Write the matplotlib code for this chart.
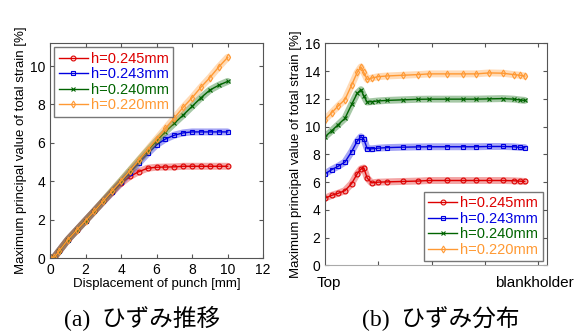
import matplotlib
matplotlib.use("Agg")
import matplotlib.pyplot as plt

plt.rcParams['font.family'] = ['Liberation Sans', 'DejaVu Sans']

labels = ['h=0.245mm', 'h=0.243mm', 'h=0.240mm', 'h=0.220mm']
colors = ['#dd0000', '#0000e0', '#006400', '#ff9933']
markers = ['o', 's', 'x', 'd']

# (a) strain vs punch displacement
disp = [0, 0.25, 0.5, 1, 1.5, 2, 2.5, 3, 3.5, 4, 4.5, 5, 5.5, 6, 6.5, 7, 7.5, 8, 8.5, 9, 9.5, 10]
strain_a = [
    [0, 0.05, 0.35, 0.95, 1.45, 1.95, 2.45, 2.95, 3.42, 3.9,
     4.25, 4.5, 4.68, 4.73, 4.74, 4.75, 4.78, 4.78, 4.78, 4.78, 4.78, 4.78],
    [0, 0.05, 0.35, 0.95, 1.45, 1.95, 2.45, 2.95, 3.45, 3.95,
     4.45, 4.95, 5.45, 5.9, 6.2, 6.4, 6.52, 6.57, 6.57, 6.57, 6.57, 6.57],
    [0, 0.05, 0.35, 0.95, 1.45, 1.95, 2.45, 2.97, 3.5, 4.02,
     4.55, 5.08, 5.6, 6.1, 6.58, 7.02, 7.45, 7.9, 8.35, 8.75, 9.0, 9.2],
    [0, 0.05, 0.35, 0.95, 1.45, 1.95, 2.45, 2.97, 3.5, 4.02,
     4.55, 5.1, 5.65, 6.2, 6.75, 7.3, 7.85, 8.35, 8.9, 9.4, 9.95, 10.45],
]

# (b) strain distribution from top to blankholder
pos = [0, 3, 6, 9, 12, 14.5, 16.2, 17.5, 19, 21, 24, 28, 35, 42, 47, 55, 62, 68, 74, 80, 85, 88, 90]
strain_b = [
    [4.84, 5.05, 5.2, 5.39, 5.9, 6.6, 6.95, 7.02, 6.3, 5.95, 6.0, 6.02, 6.05, 6.08,
     6.12, 6.12, 6.12, 6.12, 6.12, 6.12, 6.1, 6.07, 6.05],
    [6.6, 6.9, 7.15, 7.45, 8.2, 8.95, 9.27, 9.1, 8.42, 8.4, 8.45, 8.49, 8.52, 8.54,
     8.55, 8.55, 8.55, 8.55, 8.57, 8.57, 8.55, 8.5, 8.49],
    [9.27, 9.7, 10.15, 10.6, 11.6, 12.4, 12.66, 12.2, 11.77, 11.8, 11.85, 11.89, 11.93, 11.97,
     11.98, 11.98, 11.98, 11.98, 12.0, 12.02, 11.98, 11.92, 11.89],
    [10.5, 11.0, 11.5, 11.95, 13.0, 13.9, 14.3, 13.9, 13.4, 13.5, 13.6, 13.65, 13.7, 13.75,
     13.8, 13.8, 13.8, 13.8, 13.87, 13.85, 13.75, 13.7, 13.64],
]

ylab = 'Maximum principal value of total strain [%]'

fig = plt.figure(figsize=(5.84, 3.36), dpi=100)
ax1 = fig.add_axes([0.0856, 0.232, 0.365, 0.64])
ax2 = fig.add_axes([0.5565, 0.21, 0.38, 0.661])


def draw(ax, x, ys):
    for y, c, m, lab in zip(ys, colors, markers, labels):
        ax.plot(x, y, color=c, lw=5, alpha=0.35, solid_capstyle='round')
        ax.plot(x, y, color=c, lw=1, marker=m, ms=3.5, mfc='none', mew=0.8, label=lab)
    for s in ax.spines.values():
        s.set_color('#555555')
        s.set_linewidth(0.8)
    ax.tick_params(direction='in', top=True, right=True, labelsize=10,
                   length=3, color='#555555')


draw(ax1, disp, strain_a)
ax1.set_xlim(0, 12)
ax1.set_ylim(0, 11.2)
ax1.set_xticks([0, 2, 4, 6, 8, 10, 12])
ax1.set_yticks([0, 2, 4, 6, 8, 10])
ax1.set_xlabel('Displacement of punch [mm]', fontsize=9.5, labelpad=1)
ax1.set_ylabel(ylab, fontsize=9.5, labelpad=2)
leg1 = ax1.legend(loc='upper left', fontsize=10.5, handlelength=2.0, handletextpad=0.2,
                  borderpad=0.3, labelspacing=0.1, fancybox=False, edgecolor='#555555',
                  borderaxespad=0.3)
for t, c in zip(leg1.get_texts(), colors):
    t.set_color(c)

draw(ax2, pos, strain_b)
ax2.set_xlim(0, 100)
ax2.set_ylim(0, 16)
ax2.set_xticks([24, 48, 72, 96])
ax2.set_xticklabels([])
ax2.set_yticks(range(0, 17, 2))
ax2.spines['bottom'].set_color('#aaaaaa')
ax2.set_ylabel(ylab, fontsize=9.5, labelpad=2)
leg2 = ax2.legend(loc='lower right', fontsize=10.5, handlelength=2.0, handletextpad=0.2,
                  borderpad=0.3, labelspacing=0.1, fancybox=False, edgecolor='#555555',
                  borderaxespad=0.3)
for t, c in zip(leg2.get_texts(), colors):
    t.set_color(c)

fig.text(0.543, 0.158, 'Top', fontsize=11, va='center', ha='left')
fig.text(0.983, 0.158, 'blankholder', fontsize=11, va='center', ha='right')

cap = ['Liberation Serif', 'Noto Sans CJK JP']
fig.text(0.243, 0.053, '(a)  ひずみ推移', fontsize=17, ha='center', va='center', family=cap)
fig.text(0.755, 0.053, '(b)  ひずみ分布', fontsize=17, ha='center', va='center', family=cap)

fig.savefig('out.png', dpi=100)
